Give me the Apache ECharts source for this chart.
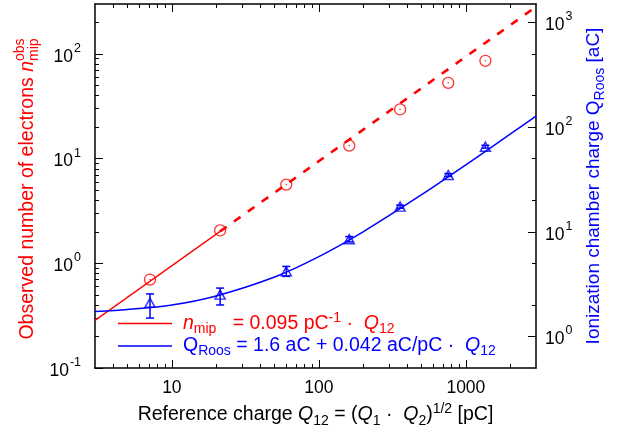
<!DOCTYPE html>
<html>
<head>
<meta charset="utf-8">
<script src="https://cdn.jsdelivr.net/npm/echarts@6/dist/echarts.min.js"></script>
<style>
  html, body { margin: 0; padding: 0; background: #fff; }
  #chart { width: 619px; height: 434px; }
</style>
</head>
<body>
<div id="chart"></div>
<script>
const chargeQ12 = [7.1, 21.3, 60, 161, 357, 759, 1358];
const electronsObs = [0.70, 2.06, 5.65, 13.3, 29.5, 53, 86];
const roosCharge = [2.1, 2.51, 4.2, 8.5, 17.4, 34.9, 65];
const roosLow = [1.5, 2.0, 3.75, 8.0, 16.8, 33.8, 63];
const roosHigh = [2.55, 2.9, 4.67, 9.0, 18.0, 36.0, 67];

// fit lines
const nFitSolidQ = [3, 21.3];
const nFitSolidN = [0.285, 2.02];
const nFitDashQ = [21.3, 3000];
const nFitDashN = [2.02, 282];
const roosFitQ = [3, 5, 10, 20, 50, 100, 200, 500, 1000, 2000, 3000];
const roosFitC = [1.73, 1.81, 2.0, 2.44, 3.7, 5.8, 10, 22.6, 43.6, 85.6, 127.6];

// ticks
const xMajor = [10, 100, 1000];
const xMinor = [4, 5, 6, 7, 8, 9, 20, 30, 40, 50, 60, 70, 80, 90,
  200, 300, 400, 500, 600, 700, 800, 900, 2000];
const leftMajor = [0.1, 1, 10, 100];
const leftMinor = [0.2, 0.3, 0.4, 0.5, 0.6, 0.7, 0.8, 0.9, 2, 3, 4, 5, 6, 7, 8, 9,
  20, 30, 40, 50, 60, 70, 80, 90, 200];
const rightMajor = [1, 10, 100, 1000];
const rightMinor = [2, 5, 20, 50, 200, 500];

const RED = '#ff0000';
const BLUE = '#0000ff';
const FONT = 'Liberation Sans, Arial, sans-serif';
const TITLE_SIZE = 19.5;
const SUB_SIZE = 14;

const chart = echarts.init(document.getElementById('chart'));

const pairs = (xs, ys) => xs.map((x, i) => [x, ys[i]]);

const powLabel = (v) => '{b|10}{s|' + Math.round(Math.log10(v)) + '}';
const powRich = {
  b: { fontSize: 17.5, fontFamily: FONT, color: '#000', lineHeight: 24, verticalAlign: 'bottom' },
  s: { fontSize: 12.5, fontFamily: FONT, color: '#000', lineHeight: 24, verticalAlign: 'top', padding: [0, 0, 0, 1] }
};

const frameLine = { show: true, onZero: false, lineStyle: { color: '#000', width: 1.5 } };
const noLine = { show: false, onZero: false };

function xAxisOf(pos, values, len, extra) {
  return Object.assign({
    type: 'log', logBase: 10, min: 3, max: 3000, position: pos, gridIndex: 0,
    axisLine: noLine,
    axisTick: { show: true, inside: true, length: len, customValues: values, lineStyle: { color: '#000', width: 1 } },
    axisLabel: { show: false },
    splitLine: { show: false },
    minorTick: { show: false }
  }, extra || {});
}

function yAxisOf(pos, min, max, values, len, extra) {
  return Object.assign({
    type: 'log', logBase: 10, min: min, max: max, position: pos, gridIndex: 0,
    axisLine: noLine,
    axisTick: { show: true, inside: true, length: len, customValues: values, lineStyle: { color: '#000', width: 1 } },
    axisLabel: { show: false },
    splitLine: { show: false },
    minorTick: { show: false }
  }, extra || {});
}

const richSet = (p, color, lh) => {
  const o = {};
  o[p + 'n'] = { color: color, fontSize: TITLE_SIZE, fontFamily: FONT, lineHeight: lh, verticalAlign: 'middle' };
  o[p + 'i'] = { color: color, fontSize: TITLE_SIZE, fontFamily: FONT, fontStyle: 'italic', lineHeight: lh, verticalAlign: 'middle' };
  o[p + 'sub'] = { color: color, fontSize: SUB_SIZE, fontFamily: FONT, lineHeight: lh, verticalAlign: 'bottom' };
  o[p + 'sup'] = { color: color, fontSize: SUB_SIZE, fontFamily: FONT, lineHeight: lh, verticalAlign: 'top' };
  return o;
};

const legendRich = Object.assign({}, richSet('r', RED, 25), richSet('b', BLUE, 25));
const legendText = {
  'n fit': '{ri|n}{rsub|mip}{rn|   = 0.095 pC}{rsup|-1}{rn| ·  }{ri|Q}{rsub|12}',
  'Roos fit': '{bn|Q}{bsub|Roos}{bn| = 1.6 aC + 0.042 aC/pC ·  }{bi|Q}{bsub|12}'
};

// rotated axis titles, laid out by measuring text
const ctx = document.createElement('canvas').getContext('2d');
const textW = (s, size, style) => { ctx.font = (style || '') + ' ' + size + 'px ' + FONT; return ctx.measureText(s).width; };

const leftMainW = textW('Observed number of electrons ', TITLE_SIZE) + textW('n', TITLE_SIZE, 'italic');
const leftTotalW = leftMainW + textW('mip', SUB_SIZE);
const rightTotalW = textW('Ionization chamber charge Q', 19) + textW('Roos', SUB_SIZE) + textW(' [aC]', 19);

const titleRich = (color, size) => ({
  n: { color: color, fontSize: size, fontFamily: FONT, lineHeight: 26, verticalAlign: 'middle' },
  i: { color: color, fontSize: size, fontFamily: FONT, fontStyle: 'italic', lineHeight: 26, verticalAlign: 'middle' },
  sub: { color: color, fontSize: SUB_SIZE, fontFamily: FONT, lineHeight: 26, verticalAlign: 'bottom' },
  sup: { color: color, fontSize: SUB_SIZE, fontFamily: FONT, lineHeight: 26, verticalAlign: 'top' }
});

chart.setOption({
  animation: false,
  backgroundColor: '#fff',
  grid: { left: 95, right: 83, top: 4, bottom: 66, containLabel: false },
  legend: {
    show: true,
    orient: 'vertical',
    left: 118,
    top: 311,
    padding: 0,
    itemWidth: 54,
    itemHeight: 1.5,
    itemGap: 0,
    data: [{ name: 'n fit', icon: 'rect' }, { name: 'Roos fit', icon: 'rect' }],
    formatter: (name) => legendText[name],
    textStyle: { rich: legendRich, padding: [0, 0, 0, 6] },
    selectedMode: false
  },
  xAxis: [
    xAxisOf('bottom', xMajor, 8, {
      axisLine: frameLine,
      axisLabel: {
        show: true, customValues: xMajor, margin: 11,
        fontSize: 17.5, fontFamily: FONT, color: '#000',
        formatter: (v) => String(Math.round(v))
      },
      name: 'Reference charge {i|Q}{sub|12}{n| = (}{i|Q}{sub|1}{n| ·  }{i|Q}{sub|2}{n|)}{sup|1/2}{n| [pC]}',
      nameLocation: 'middle',
      nameGap: 29,
      nameTextStyle: { color: '#000', fontSize: TITLE_SIZE, fontFamily: FONT, rich: titleRich('#000', TITLE_SIZE) }
    }),
    xAxisOf('bottom', xMinor, 4),
    xAxisOf('top', xMajor, 8, { axisLine: frameLine }),
    xAxisOf('top', xMinor, 4)
  ],
  yAxis: [
    yAxisOf('left', 0.1, 300, leftMajor, 8, {
      axisLine: frameLine,
      axisLabel: { show: true, customValues: leftMajor, margin: 14, formatter: powLabel, rich: powRich }
    }),
    yAxisOf('left', 0.1, 300, leftMinor, 4),
    yAxisOf('right', 0.5, 1500, rightMajor, 8, {
      axisLine: frameLine,
      axisLabel: { show: true, customValues: rightMajor, margin: 9, formatter: powLabel, rich: powRich }
    }),
    yAxisOf('right', 0.5, 1500, rightMinor, 4)
  ],
  graphic: [
    {
      type: 'group', x: 28, y: 189, rotation: Math.PI / 2, silent: true,
      children: [
        {
          type: 'text', x: -leftTotalW / 2, y: 0,
          style: {
            text: 'Observed number of electrons {i|n}{sub|mip}',
            rich: titleRich(RED, TITLE_SIZE), fill: RED, font: TITLE_SIZE + 'px ' + FONT,
            align: 'left', verticalAlign: 'middle'
          }
        },
        {
          type: 'text', x: -leftTotalW / 2 + leftMainW, y: -8,
          style: { text: 'obs', fill: RED, font: SUB_SIZE + 'px ' + FONT, align: 'left', verticalAlign: 'middle' }
        }
      ]
    },
    {
      type: 'group', x: 594, y: 186, rotation: Math.PI / 2, silent: true,
      children: [
        {
          type: 'text', x: -rightTotalW / 2, y: 0,
          style: {
            text: 'Ionization chamber charge Q{sub|Roos}{n| [aC]}',
            rich: titleRich(BLUE, 19), fill: BLUE, font: '19px ' + FONT,
            align: 'left', verticalAlign: 'middle'
          }
        }
      ]
    }
  ],
  series: [
    {
      name: 'n fit', type: 'line', xAxisIndex: 0, yAxisIndex: 0,
      data: pairs(nFitSolidQ, nFitSolidN), symbol: 'none',
      lineStyle: { color: RED, width: 1.3 }, itemStyle: { color: RED }, z: 2
    },
    {
      name: 'n fit extrapolated', type: 'line', xAxisIndex: 0, yAxisIndex: 0,
      data: pairs(nFitDashQ, nFitDashN), symbol: 'none',
      lineStyle: { color: RED, width: 2.6, type: [8, 9] }, z: 2
    },
    {
      name: 'Roos fit', type: 'line', xAxisIndex: 0, yAxisIndex: 2,
      data: pairs(roosFitQ, roosFitC), symbol: 'none', smooth: 0.3,
      lineStyle: { color: BLUE, width: 1.5 }, itemStyle: { color: BLUE }, z: 2
    },
    {
      name: 'Roos errors', type: 'custom', xAxisIndex: 0, yAxisIndex: 2,
      data: chargeQ12.map((q, i) => [q, roosLow[i], roosHigh[i]]),
      encode: { x: 0, y: [1, 2] },
      renderItem: (params, api) => {
        const lo = api.coord([api.value(0), api.value(1)]);
        const hi = api.coord([api.value(0), api.value(2)]);
        const w = 4;
        const st = { stroke: BLUE, lineWidth: 1.5 };
        return {
          type: 'group',
          children: [
            { type: 'line', shape: { x1: lo[0], y1: lo[1], x2: hi[0], y2: hi[1] }, style: st },
            { type: 'line', shape: { x1: lo[0] - w, y1: lo[1], x2: lo[0] + w, y2: lo[1] }, style: st },
            { type: 'line', shape: { x1: hi[0] - w, y1: hi[1], x2: hi[0] + w, y2: hi[1] }, style: st }
          ]
        };
      },
      z: 3
    },
    {
      name: 'n obs', type: 'scatter', xAxisIndex: 0, yAxisIndex: 0,
      data: pairs(chargeQ12, electronsObs), symbol: 'circle', symbolSize: 11,
      itemStyle: { color: 'transparent', borderColor: RED, borderWidth: 1.3 }, z: 4
    },
    {
      name: 'n obs dot', type: 'scatter', xAxisIndex: 0, yAxisIndex: 0,
      data: pairs(chargeQ12, electronsObs), symbol: 'circle', symbolSize: 1.6,
      itemStyle: { color: RED }, z: 4
    },
    {
      name: 'Roos obs', type: 'scatter', xAxisIndex: 0, yAxisIndex: 2,
      data: pairs(chargeQ12, roosCharge), symbol: 'triangle', symbolSize: [10, 9],
      itemStyle: { color: 'transparent', borderColor: BLUE, borderWidth: 1.5 }, z: 4
    }
  ]
});
</script>
</body>
</html>
